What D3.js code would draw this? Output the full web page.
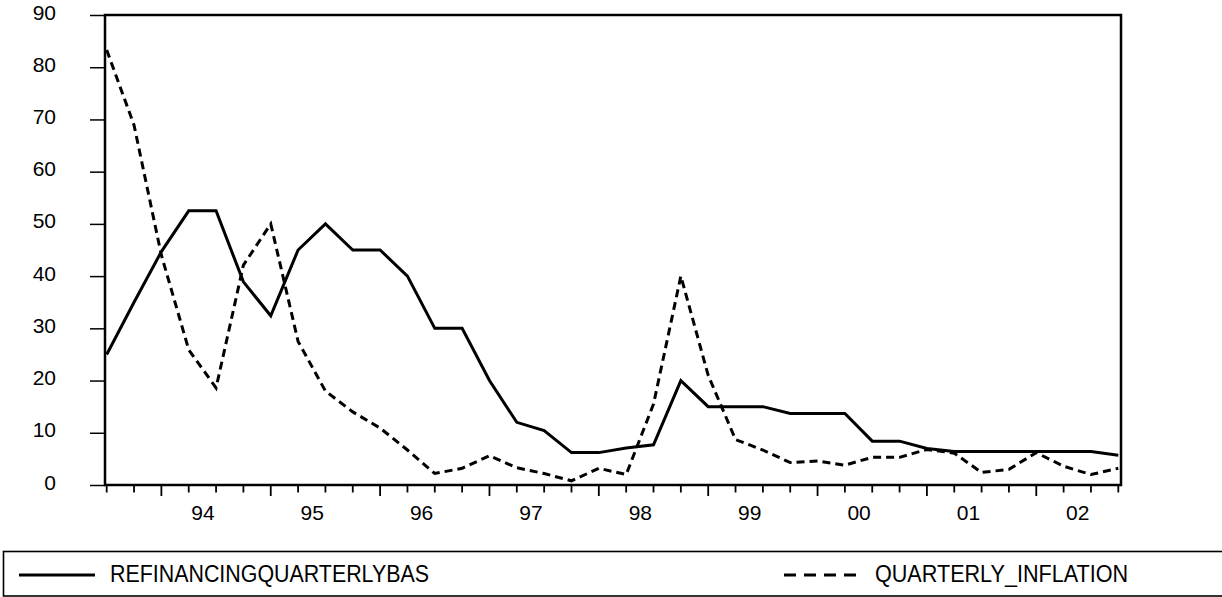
<!DOCTYPE html>
<html><head><meta charset="utf-8">
<script src="https://cdn.jsdelivr.net/npm/d3@7"></script>
<style>
html,body{margin:0;padding:0;background:#fff;}
svg{display:block;}
text{font-family:"Liberation Sans",Arial,sans-serif;fill:#000;}
</style></head>
<body>
<svg id="chart" width="1222" height="597"></svg>
<script>
// Quarters from 1993Q3 to 2002Q4
const quarters = ["1993Q3","1993Q4",
 "1994Q1","1994Q2","1994Q3","1994Q4",
 "1995Q1","1995Q2","1995Q3","1995Q4",
 "1996Q1","1996Q2","1996Q3","1996Q4",
 "1997Q1","1997Q2","1997Q3","1997Q4",
 "1998Q1","1998Q2","1998Q3","1998Q4",
 "1999Q1","1999Q2","1999Q3","1999Q4",
 "2000Q1","2000Q2","2000Q3","2000Q4",
 "2001Q1","2001Q2","2001Q3","2001Q4",
 "2002Q1","2002Q2","2002Q3","2002Q4"];
const refinancing = [25,35,44.7,52.5,52.5,38.9,32.4,45,50,45,45,40,
 30,30,20,12,10.4,6.2,6.2,7.1,7.7,20,15,15,15,13.7,13.7,13.7,
 8.4,8.4,7.0,6.4,6.4,6.4,6.4,6.4,6.4,5.7];
const inflation = [83.3,68.9,44,25.9,18.6,42.1,50,27.5,18,14,10.9,6.7,
 2.2,3.2,5.6,3.3,2.2,0.8,3.2,2.0,15.5,40,21,8.7,6.7,4.3,4.6,3.8,
 5.3,5.3,6.8,6.1,2.4,3.0,6.2,3.6,2.0,3.2];
const yearLabels = ["94","95","96","97","98","99","00","01","02"];
const yTicks = [0,10,20,30,40,50,60,70,80,90];
const seriesNames = ["REFINANCINGQUARTERLYBAS","QUARTERLY_INFLATION"];

const svg = d3.select("#chart");
const L = 105, T = 15, R = 1121, B = 485;
const x = d3.scaleLinear().domain([0, quarters.length - 1]).range([106.7, 1118.3]);
const y = d3.scaleLinear().domain([0, 90]).range([B, T]);

// y axis
const yAxis = d3.axisLeft(y).tickValues(yTicks).tickSize(15).tickPadding(34);
const gy = svg.append("g").attr("transform", `translate(${L},0)`).call(yAxis);
gy.select(".domain").remove();
gy.selectAll(".tick line").attr("stroke", "#000").attr("stroke-width", 1.5);
gy.selectAll(".tick text").attr("font-size", 21).attr("dy", 4)
  .attr("font-family", "Liberation Sans, Arial, sans-serif");

// x axis minor/major ticks
const idx = d3.range(quarters.length);
const isMajor = i => quarters[i].endsWith("Q1");
const gx = svg.append("g").attr("transform", `translate(0,${B})`);
gx.selectAll("line.tk").data(idx).join("line").attr("class","tk")
  .attr("x1", d => x(d)).attr("x2", d => x(d))
  .attr("y1", 0).attr("y2", d => isMajor(d) ? 11 : 7.5)
  .attr("stroke", "#000").attr("stroke-width", 1.8);
// year labels centred on each year's four quarters
const q1Idx = idx.filter(isMajor);
const labAxis = d3.axisBottom(x).tickValues(q1Idx.map(i => i + 1.5))
  .tickFormat((d, k) => yearLabels[k]).tickSize(0).tickPadding(0);
const gl = svg.append("g").attr("transform", `translate(0,${B})`).call(labAxis);
gl.select(".domain").remove();
gl.selectAll(".tick text").attr("font-size", 21).attr("dy", null).attr("y", 35)
  .attr("font-family", "Liberation Sans, Arial, sans-serif");

// lines
const line = vals => d3.line().x((d, i) => x(i)).y(d => y(d))(vals);
svg.append("path").attr("d", line(inflation)).attr("fill", "none")
  .attr("stroke", "#000").attr("stroke-width", 3).attr("stroke-dasharray", "8,5");
svg.append("path").attr("d", line(refinancing)).attr("fill", "none")
  .attr("stroke", "#000").attr("stroke-width", 3).attr("stroke-linejoin", "miter");

// frame
svg.append("rect").attr("x", L).attr("y", T).attr("width", R - L).attr("height", B - T)
  .attr("fill", "none").attr("stroke", "#000").attr("stroke-width", 2.5);

// legend
svg.append("rect").attr("x", 3.5).attr("y", 551.5).attr("width", 1230).attr("height", 44.5)
  .attr("fill", "none").attr("stroke", "#000").attr("stroke-width", 1.6);
svg.append("line").attr("x1", 19).attr("x2", 95).attr("y1", 575).attr("y2", 575)
  .attr("stroke", "#000").attr("stroke-width", 3);
svg.append("text").attr("x", 110).attr("y", 581.7).attr("font-size", 23)
  .attr("textLength", 319).attr("lengthAdjust", "spacingAndGlyphs").text(seriesNames[0]);
svg.append("line").attr("x1", 784).attr("x2", 856).attr("y1", 575).attr("y2", 575)
  .attr("stroke", "#000").attr("stroke-width", 3).attr("stroke-dasharray", "12,8");
svg.append("text").attr("x", 875).attr("y", 581.7).attr("font-size", 23)
  .attr("textLength", 253).attr("lengthAdjust", "spacingAndGlyphs").text(seriesNames[1]);
</script>
</body></html>
